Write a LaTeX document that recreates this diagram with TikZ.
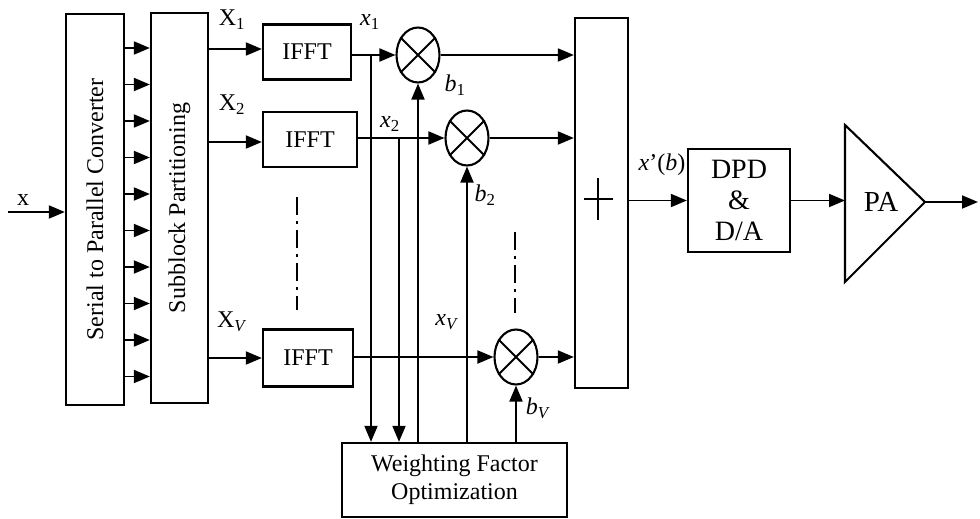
\documentclass[tikz,border=0pt]{standalone}
\usepackage{fontspec}
\setmainfont{Liberation Serif}
\usetikzlibrary{arrows.meta,shapes.geometric,calc}
\begin{document}
\begin{tikzpicture}[x=1pt,y=-1pt,
  box/.style={draw,line width=2.3pt,inner sep=0pt,font=\fontsize{24}{28}\selectfont},
  arr/.style={line width=1.9pt,-{Triangle[length=16pt,width=13pt]}},
  ln/.style={line width=1.9pt},
  lbl/.style={inner sep=0pt,font=\fontsize{24}{28}\selectfont},
  mult/.style={draw,ellipse,line width=2.1pt,minimum width=43pt,minimum height=55pt,inner sep=0pt},
  dd/.style={line width=2pt,dash pattern=on 18pt off 6pt on 3pt off 6pt}]
\useasboundingbox (0,0) rectangle (980,519);
% blocks
\node[box,minimum width=58pt,minimum height=391pt] (sp) at (95,209.5) {\rotatebox{90}{Serial to Parallel Converter}};
\node[box,minimum width=57pt,minimum height=390pt] (sb) at (179.5,208) {\rotatebox{90}{Subblock Partitioning}};
\node[box,minimum width=88pt,minimum height=55pt] (f1) at (307,52) {IFFT};
\node[box,minimum width=94pt,minimum height=55pt] (f2) at (310,139.5) {IFFT};
\node[box,minimum width=90pt,minimum height=57pt] (fv) at (308,358) {IFFT};
\node[mult] (m1) at (418,55) {};
\node[mult] (m2) at (467,138) {};
\node[mult] (mv) at (516,357) {};
\foreach \m in {m1,m2,mv} {\draw[ln] (\m.45) -- (\m.-135) (\m.135) -- (\m.-45);}
\node[box,minimum width=53pt,minimum height=370pt] (sum) at (601.5,203) {};
\coordinate (pc) at ([shift={(-3.5,-4)}]sum.center);
\draw[line width=1.6pt] (pc) +(-14.5,0) -- +(14.5,0) (pc) +(0,-21) -- +(0,21);
\node[box,minimum width=102pt,minimum height=103pt,align=center,font=\fontsize{28}{31}\selectfont] (dpd) at (739,200.5) {DPD\\\&\\D/A};
\coordinate (pat) at (845,125);
\coordinate (pab) at (845,282);
\coordinate (pac) at (925,202);
\draw[line width=2.1pt] (pat) -- (pac) -- (pab) -- cycle;
\node[lbl,font=\fontsize{29}{32}\selectfont] (pa) at (881,202) {PA};
\node[box,minimum width=225pt,minimum height=74pt,align=center] (wfo) at (454.5,480) {Weighting Factor\\Optimization};
% S/P to subblock
\foreach \yy in {48,84.5,121,157.5,194,230.5,267,303.5,340,376.5} {
  \coordinate (r) at (0,\yy);
  \draw[arr] (sp.east |- r) -- (sb.west |- r);
}
% input
\coordinate (xin) at (8,212);
\draw[arr] (xin) -- (sp.west |- xin);
\node[lbl] (lx) at (23,200) {x};
% subblocks to IFFT
\coordinate (c1) at (0,49);
\coordinate (c2) at (0,142);
\draw[arr] (sb.east |- c1) -- (f1.west |- c1);
\draw[arr] (sb.east |- c2) -- (f2.west |- c2);
\draw[arr] (sb.east |- fv) -- (fv.west);
% IFFT to multipliers
\draw[arr] (f1.east |- m1) -- (m1.west);
\draw[arr] (f2.east |- m2) -- (m2.west);
\draw[arr] (fv.east |- mv) -- (mv.west);
% multipliers to sum
\draw[arr] (m1.east) -- (sum.west |- m1);
\draw[arr] (m2.east) -- (sum.west |- m2);
\draw[arr] (mv.east) -- (sum.west |- mv);
% taps
\coordinate (t1) at (371,55);
\coordinate (t2) at (399,138);
\draw[arr] (t1) -- (t1 |- wfo.north);
\draw[arr] (t2) -- (t2 |- wfo.north);
% weights
\draw[arr] (m1 |- wfo.north) -- (m1.south);
\draw[arr] (m2 |- wfo.north) -- (m2.south);
\draw[arr] (mv |- wfo.north) -- (mv.south);
% output chain
\draw[arr] (sum.east |- dpd) -- (dpd.west);
\draw[arr] (dpd.east) -- (dpd.east -| pat);
\coordinate (out) at (978,202);
\draw[arr] (pac) -- (out);
% dash-dot
\coordinate (d1a) at (297,197);
\coordinate (d1b) at (297,310);
\coordinate (d2a) at (515,232);
\coordinate (d2b) at (515,313);
\draw[dd] (d1a) -- (d1b);
\draw[dd] (d2a) -- (d2b);
% labels
\node[lbl] (lX1) at (232,20) {X\textsubscript{1}};
\node[lbl] (lX2) at (232,105) {X\textsubscript{2}};
\node[lbl] (lXv) at (232,322) {X\textsubscript{\textit{V}}};
\node[lbl] (lx1) at (370,22) {\textit{x}\textsubscript{1}};
\node[lbl] (lx2) at (390,124) {\textit{x}\textsubscript{2}};
\node[lbl] (lxv) at (447,322) {\textit{x}\textsubscript{\textit{V}}};
\node[lbl] (lb1) at (455,85) {\textit{b}\textsubscript{1}};
\node[lbl] (lb2) at (485,195) {\textit{b}\textsubscript{2}};
\node[lbl] (lbv) at (538,408) {\textit{b}\textsubscript{\textit{V}}};
\node[lbl] (lxb) at (662,165) {\textit{x}'(\textit{b})};
\end{tikzpicture}
\end{document}
